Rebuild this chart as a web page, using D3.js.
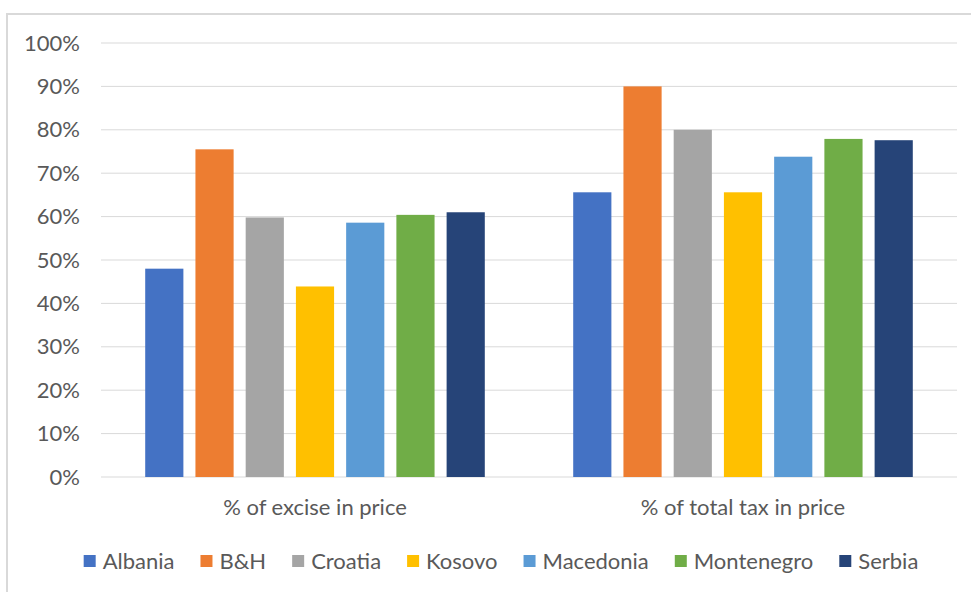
<!DOCTYPE html>
<html>
<head>
<meta charset="utf-8">
<script src="https://cdn.jsdelivr.net/npm/d3@7"></script>
<style>
  body { margin: 0; background: #fff; }
  svg text { font-family: Lato, "Open Sans", sans-serif; fill: #595959; }
</style>
</head>
<body>
<div id="chart"></div>
<script>
// Chart data
const categories = ['% of excise in price', '% of total tax in price'];
const countries = ['Albania', 'B&H', 'Croatia', 'Kosovo', 'Macedonia', 'Montenegro', 'Serbia'];
const exciseShare = [0.48, 0.755, 0.598, 0.439, 0.586, 0.604, 0.61];
const totalTaxShare = [0.656, 0.90, 0.80, 0.656, 0.738, 0.779, 0.776];
const yTicks = [0, 0.1, 0.2, 0.3, 0.4, 0.5, 0.6, 0.7, 0.8, 0.9, 1.0];
const colors = ['#4472C4', '#ED7D31', '#A5A5A5', '#FFC000', '#5B9BD5', '#70AD47', '#264478'];

const width = 971, height = 592;
const margin = { top: 43, right: 14, bottom: 115, left: 101 };
const plotW = width - margin.left - margin.right;
const plotH = height - margin.top - margin.bottom;
const fontSize = '22px';

const svg = d3.select('#chart')
    .append('svg')
    .attr('width', width)
    .attr('height', height);

// chart frame (runs off the right and bottom edges)
svg.append('rect')
    .attr('x', 7).attr('y', 14)
    .attr('width', 990).attr('height', 620)
    .attr('fill', 'none')
    .attr('stroke', '#d9d9d9')
    .attr('stroke-width', 2);

const g = svg.append('g').attr('transform', `translate(${margin.left},${margin.top})`);

const y = d3.scaleLinear().domain([0, 1]).range([plotH, 0]);
const x0 = d3.scaleBand().domain(categories).range([0, plotW]);
const x1 = d3.scaleBand().domain(countries).range([0, x0.bandwidth()])
    .paddingInner(0.24).paddingOuter(0.88);

// gridlines
g.append('g')
    .selectAll('line')
    .data(yTicks)
    .enter()
    .append('line')
    .attr('x1', 0).attr('x2', plotW)
    .attr('y1', d => y(d)).attr('y2', d => y(d))
    .attr('stroke', '#d9d9d9')
    .attr('stroke-width', 1);

// y axis labels
const yAxis = d3.axisLeft(y)
    .tickValues(yTicks)
    .tickFormat(d3.format('.0%'))
    .tickSize(0)
    .tickPadding(21);

g.append('g')
    .call(yAxis)
    .call(sel => sel.select('.domain').remove())
    .selectAll('text')
    .attr('font-size', fontSize)
    .style('font-family', 'Lato, sans-serif')
    .style('fill', '#595959');

// bars
const series = [exciseShare, totalTaxShare];
const groups = g.selectAll('.cat')
    .data(categories)
    .enter()
    .append('g')
    .attr('class', 'cat')
    .attr('transform', d => `translate(${x0(d)},0)`);

groups.selectAll('rect')
    .data((d, i) => countries.map((c, j) => ({ country: c, value: series[i][j], color: colors[j] })))
    .enter()
    .append('rect')
    .attr('x', d => x1(d.country))
    .attr('y', d => y(d.value))
    .attr('width', x1.bandwidth())
    .attr('height', d => plotH - y(d.value))
    .attr('fill', d => d.color);

// category labels
const xAxis = d3.axisBottom(x0).tickSize(0).tickPadding(22);
g.append('g')
    .attr('transform', `translate(0,${plotH})`)
    .call(xAxis)
    .call(sel => sel.select('.domain').remove())
    .selectAll('text')
    .attr('font-size', fontSize)
    .style('font-family', 'Lato, sans-serif')
    .style('fill', '#595959');

// legend, laid out from measured text widths and centred
const sw = 12, textGap = 7, itemGap = 26, legendCx = 501;
const legend = svg.append('g').attr('transform', 'translate(0,561)');
const items = legend.selectAll('g')
    .data(countries)
    .enter()
    .append('g');

items.append('rect')
    .attr('x', 0).attr('y', -6)
    .attr('width', sw).attr('height', 12)
    .attr('fill', (d, i) => colors[i]);

items.append('text')
    .attr('x', sw + textGap)
    .attr('y', 0)
    .attr('dy', '0.35em')
    .attr('font-size', fontSize)
    .text(d => d);

const widths = [];
items.select('text').each(function () { widths.push(this.getComputedTextLength()); });
const total = d3.sum(widths, w => sw + textGap + w) + itemGap * (widths.length - 1);
let cx = legendCx - total / 2;
items.attr('transform', (d, i) => {
    const t = `translate(${cx},0)`;
    cx += sw + textGap + widths[i] + itemGap;
    return t;
});
</script>
</body>
</html>
